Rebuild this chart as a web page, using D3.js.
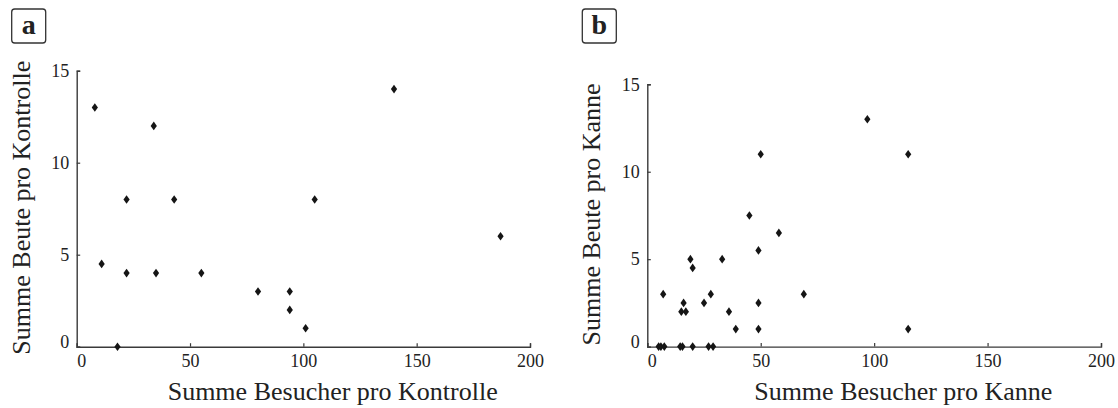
<!DOCTYPE html>
<html>
<head>
<meta charset="utf-8">
<script src="https://cdn.jsdelivr.net/npm/d3@7/dist/d3.min.js"></script>
<style>
  html, body { margin: 0; padding: 0; background: #fff; }
  svg { display: block; }
  text { font-family: "Liberation Serif", "Times New Roman", serif; fill: #222; }
</style>
</head>
<body>
<svg id="chart" width="1118" height="408"></svg>
<script>
// Axis ticks shared by both panels
const ticksX = [0, 50, 100, 150, 200];
const ticksY = [0, 5, 10, 15];

// Panel a: visitors and prey per control
const besucherKontrolle = [8, 11, 18, 22, 22, 34, 35, 43, 55, 80, 94, 94, 101, 105, 140, 187];
const beuteKontrolle    = [13, 4.5, 0, 8, 4, 12, 4, 8, 4, 3, 3, 2, 1, 8, 14, 6];

// Panel b: visitors and prey per pitcher
const besucherKanne = [5, 6, 7.5, 7, 14.5, 15.5, 15, 16, 17, 19, 20, 20, 25, 27, 28, 29, 33, 36, 39, 45, 49, 49, 49, 50, 58, 69, 97, 115, 115];
const beuteKanne    = [0, 0, 0, 3, 0, 0, 2, 2.5, 2, 5, 4.5, 0, 2.5, 0, 3, 0, 5, 2, 1, 7.5, 5.5, 2.5, 1, 11, 6.5, 3, 13, 11, 1];

const panels = [
  { tag: "a", xs: besucherKontrolle, ys: beuteKontrolle,
    xTitle: "Summe Besucher pro Kontrolle", yTitle: "Summe Beute pro Kontrolle",
    x0: 76.7, x1: 530, yTop: 70.7, yBottom: 346.7 },
  { tag: "b", xs: besucherKanne, ys: beuteKanne,
    xTitle: "Summe Besucher pro Kanne", yTitle: "Summe Beute pro Kanne",
    x0: 647.3, x1: 1101, yTop: 84.3, yBottom: 346.6 }
];

// Slightly tall diamond marker
const tallDiamond = {
  draw(ctx, size) {
    const h = Math.sqrt(size / 1.5);
    const w = h * 0.72;
    ctx.moveTo(0, -h);
    ctx.lineTo(w, 0);
    ctx.lineTo(0, h);
    ctx.lineTo(-w, 0);
    ctx.closePath();
  }
};

const svg = d3.select("#chart");

panels.forEach(p => {
  const x = d3.scaleLinear().domain([0, 200]).range([p.x0, p.x1]);
  const y = d3.scaleLinear().domain([0, 15]).range([p.yBottom, p.yTop]);
  const g = svg.append("g");

  const xAxis = g.append("g")
    .attr("transform", `translate(0,${p.yBottom})`)
    .call(d3.axisBottom(x).tickValues(ticksX).tickSize(-3.5).tickPadding(8));
  const yAxis = g.append("g")
    .attr("transform", `translate(${p.x0},0)`)
    .call(d3.axisLeft(y).tickValues(ticksY).tickSize(-3.5).tickPadding(7.5));

  [xAxis, yAxis].forEach(ax => {
    ax.select(".domain").attr("stroke", "#3a3a3a").attr("stroke-width", 1.4);
    ax.selectAll(".tick line").attr("stroke", "#3a3a3a").attr("stroke-width", 1.2);
    ax.selectAll(".tick text")
      .attr("fill", "#222")
      .style("font-family", '"Liberation Serif", "Times New Roman", serif')
      .style("font-size", "18px");
  });

  // Nudge the two zero labels away from the axis corner
  xAxis.selectAll(".tick text").filter(d => d === 0).attr("dx", 4.5);
  yAxis.selectAll(".tick text").filter(d => d === 0).attr("y", -5);

  // Data points
  g.append("g").selectAll("path")
    .data(p.xs.map((v, i) => [v, p.ys[i]]))
    .join("path")
    .attr("transform", d => `translate(${x(d[0])},${y(d[1])})`)
    .attr("d", d3.symbol().type(tallDiamond).size(28))
    .attr("fill", "#151515");

  // Axis titles
  g.append("text")
    .attr("x", p.x0 + 256)
    .attr("y", 400)
    .attr("text-anchor", "middle")
    .style("font-size", "26px")
    .text(p.xTitle);

  const yMid = (p.yTop + p.yBottom) / 2 - 1;
  g.append("text")
    .attr("transform", `translate(${p.x0 - 47.2},${yMid}) rotate(-90)`)
    .attr("text-anchor", "middle")
    .style("font-size", "26px")
    .text(p.yTitle);

  // Panel tag in a rounded box
  const bx = p.x0 - 65;
  g.append("rect")
    .attr("x", bx).attr("y", 9)
    .attr("width", 34).attr("height", 34)
    .attr("rx", 3)
    .attr("fill", "none")
    .attr("stroke", "#333")
    .attr("stroke-width", 1.3);
  g.append("text")
    .attr("x", bx + 17)
    .attr("y", 34)
    .attr("text-anchor", "middle")
    .style("font-size", "28px")
    .style("font-weight", "bold")
    .text(p.tag);
});
</script>
</body>
</html>
